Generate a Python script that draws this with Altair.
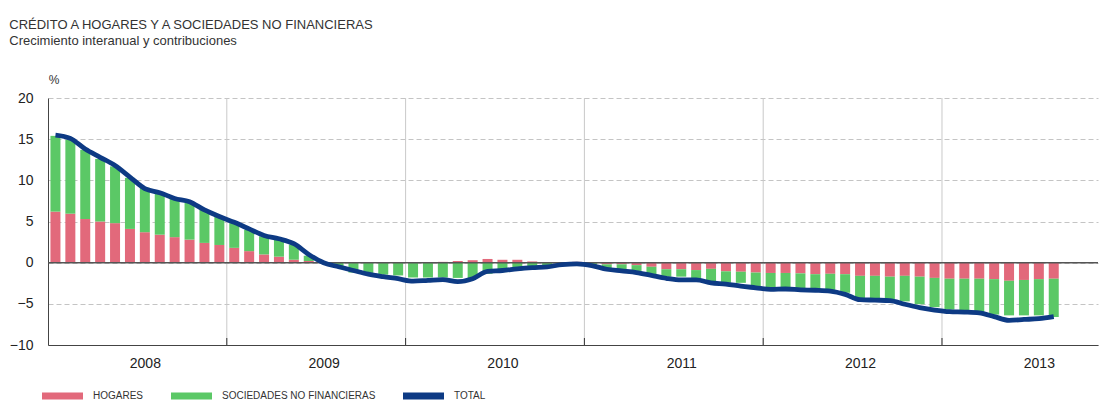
import altair as alt
import pandas as pd

# Monthly data, Jan 2008 .. Aug 2013 (68 months)
hogares = [6.2, 5.95, 5.3, 5.0, 4.8, 4.1, 3.7, 3.4, 3.1, 2.8, 2.4, 2.15,
           1.8, 1.4, 1.0, 0.73, 0.36, 0.2, 0.05, -0.05, -0.05, 0.0, 0.0, 0.0,
           0.0, 0.05, 0.1, 0.2, 0.3, 0.45, 0.35, 0.35, 0.15, 0.05, 0.05, 0.1,
           0.05, -0.2, -0.2, -0.3, -0.5, -0.8, -0.8, -0.9, -0.75, -1.05, -1.1, -1.2,
           -1.25, -1.25, -1.3, -1.4, -1.35, -1.4, -1.6, -1.6, -1.7, -1.6, -1.7, -1.85,
           -1.95, -1.95, -1.95, -2.0, -2.2, -2.1, -2.0, -1.95]
sociedades = [9.2, 8.95, 8.4, 7.6, 6.9, 6.2, 5.4, 5.0, 4.7, 4.5, 4.0, 3.45,
              3.0, 2.6, 2.2, 2.07, 1.84, 0.65, -0.05, -0.35, -1.15, -1.25, -1.45, -1.55,
              -1.8, -1.8, -1.8, -1.85, -1.9, -1.35, -1.15, -0.95, -0.6, -0.4, -0.25, -0.15,
              -0.35, -0.55, -0.6, -0.7, -1.1, -0.9, -0.9, -1.2, -1.5, -1.4, -1.35, -1.65,
              -1.95, -1.95, -1.95, -1.85, -1.95, -2.25, -2.7, -2.8, -2.75, -3.1, -3.35, -3.55,
              -3.75, -4.2, -4.2, -4.3, -4.2, -4.3, -4.4, -4.65]
total = [15.5, 15.1, 13.8, 12.8, 11.8, 10.4, 9.0, 8.5, 7.8, 7.4, 6.4, 5.6,
         4.9, 4.1, 3.3, 2.9, 2.3, 1.0, 0.0, -0.5, -0.95, -1.4, -1.7, -1.95,
         -2.25, -2.15, -2.05, -2.3, -1.95, -1.05, -0.95, -0.75, -0.6, -0.5, -0.25, -0.15,
         -0.35, -0.8, -1.0, -1.2, -1.55, -1.9, -2.1, -2.1, -2.45, -2.6, -2.85, -3.05,
         -3.25, -3.2, -3.3, -3.35, -3.45, -3.85, -4.5, -4.55, -4.6, -5.05, -5.45, -5.75,
         -5.95, -6.0, -6.1, -6.55, -7.0, -6.9, -6.8, -6.55]

years = ["2008", "2009", "2010", "2011", "2012", "2013"]
year_boundaries = [12, 24, 36, 48, 60]
y_ticks = [-10, -5, 0, 5, 10, 15, 20]
series = ["HOGARES", "SOCIEDADES NO FINANCIERAS", "TOTAL"]
colors = ["#e2697b", "#5bc866", "#0d3a84"]

n = len(total)
xpos = [i + 0.5 for i in range(n)]

bars = pd.DataFrame({
    "x": xpos * 2,
    "value": hogares + sociedades,
    "serie": [series[0]] * n + [series[1]] * n,
    "ord": [0] * n + [1] * n,
})
line_df = pd.DataFrame({"x": xpos, "total": total})
bound_df = pd.DataFrame({"b": year_boundaries})
zero_df = pd.DataFrame({"v": [0]})

label_positions = [6.5 + 12 * k for k in range(len(years))]
label_expr = "[" + ",".join("'%s'" % y for y in years) + "][floor(datum.value/12)]"

W, H = 1050, 247
xscale = alt.Scale(domain=[0, 70.47], nice=False, zero=False, padding=0)
yscale = alt.Scale(domain=[-10, 20], nice=False, zero=False, padding=0)

xaxis = alt.Axis(values=label_positions, labelExpr=label_expr, grid=False,
                 ticks=False, domainColor="#444", domainWidth=1,
                 labelFontSize=14, labelColor="#222", labelPadding=11,
                 title=None)
yaxis = alt.Axis(values=y_ticks, grid=True, gridDash=[5, 3], gridColor="#c4c4c4",
                 ticks=False, domainColor="#444", domainWidth=1,
                 labelFontSize=14, labelColor="#222", labelPadding=15,
                 title="%", titleAngle=0, titleAlign="center",
                 titleBaseline="alphabetic", titleX=5.5, titleY=-15,
                 titleFontSize=12, titleFontWeight="normal", titleColor="#333")

bar_layer = alt.Chart(bars).mark_bar(size=10).encode(
    x=alt.X("x:Q", scale=xscale, axis=xaxis),
    y=alt.Y("value:Q", stack="zero", scale=yscale, axis=yaxis),
    color=alt.Color("serie:N", scale=alt.Scale(domain=series, range=colors),
                    legend=alt.Legend(title=None, orient="none", legendX=-6, legendY=293,
                                      direction="horizontal",
                                      symbolType="M-1,-0.7H7.2V0.7H-1Z", symbolSize=100,
                                      symbolStrokeWidth=0, symbolOpacity=1,
                                      labelOffset=41, columnPadding=27, labelLimit=0,
                                      labelFont="Liberation Sans Narrow, Arial Narrow, Liberation Sans, sans-serif",
                                      labelFontSize=10,
                                      labelColor="#333", padding=0)),
    order=alt.Order("ord:Q"),
)

grid_v = alt.Chart(bound_df).mark_rule(color="#c9c9c9", strokeWidth=1).encode(
    x=alt.X("b:Q", scale=xscale, axis=xaxis)
)

zero_rule = alt.Chart(zero_df).mark_rule(color="#555", strokeWidth=1.5).encode(
    y=alt.Y("v:Q", scale=yscale, axis=yaxis)
)

line_layer = alt.Chart(line_df).mark_line(color=colors[2], strokeWidth=4.8,
                                          interpolate="monotone").encode(
    x=alt.X("x:Q", scale=xscale, axis=xaxis),
    y=alt.Y("total:Q", scale=yscale, axis=yaxis),
)

ticks = alt.Chart(bound_df).mark_rule(color="#333", strokeWidth=1).encode(
    x=alt.X("b:Q", scale=xscale, axis=xaxis),
    y=alt.datum(-10),
    y2=alt.datum(-9.15),
)

chart = alt.layer(grid_v, bar_layer, zero_rule, line_layer, ticks).properties(
    width=W, height=H,
    title=alt.TitleParams(
        text="CRÉDITO A HOGARES Y A SOCIEDADES NO FINANCIERAS",
        subtitle="Crecimiento interanual y contribuciones",
        anchor="start", frame="bounds", offset=25,
        font="Liberation Sans", fontSize=13, fontWeight="normal", color="#333",
        subtitleFont="Liberation Sans", subtitleFontSize=13, subtitleColor="#333",
        subtitlePadding=3,
    ),
    padding={"left": 1, "top": 11, "right": 0, "bottom": 0},
).configure(font="Liberation Sans").configure_view(stroke=None)

chart.save("out.html", embed_options={"renderer": "svg", "actions": False})
